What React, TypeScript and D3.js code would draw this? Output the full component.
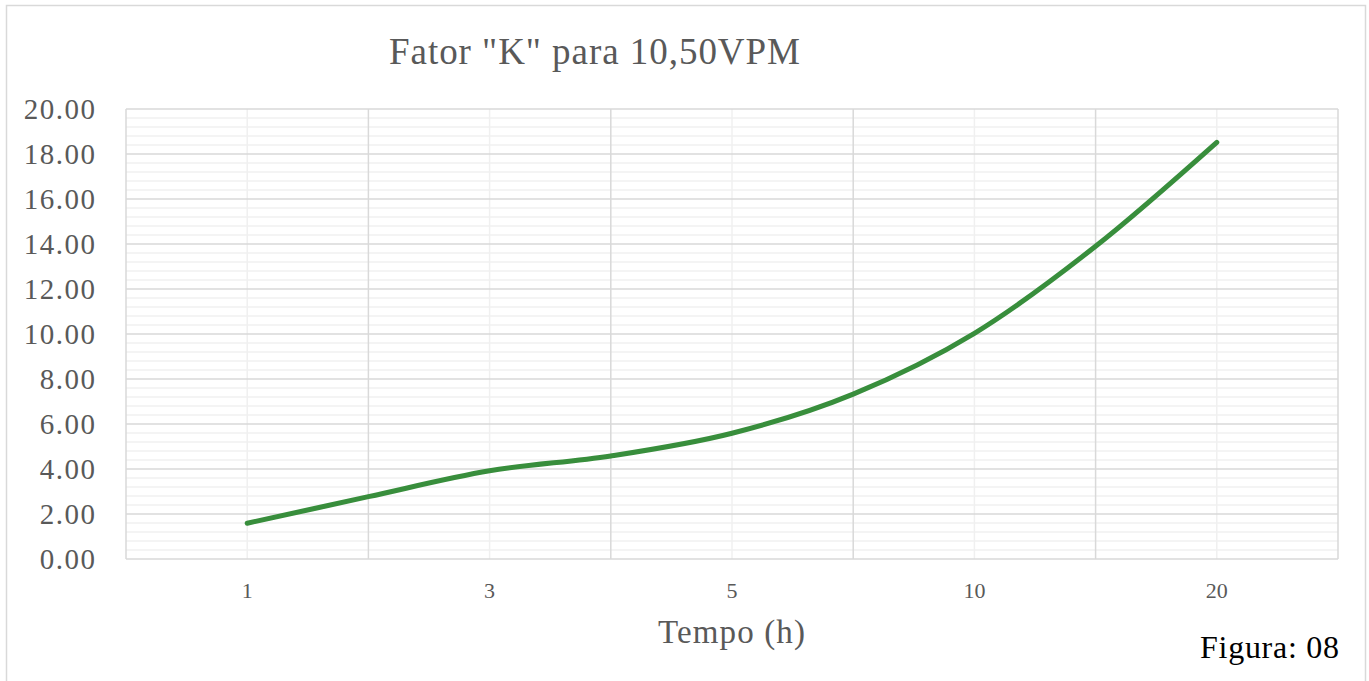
import React from "react";
import * as d3 from "d3";

const categories = ["1", "2", "3", "4", "5", "7", "10", "15", "20"];
const kValues = [1.59, 2.77, 3.92, 4.58, 5.59, 7.33, 10.03, 13.9, 18.52];
const labelEvery = 2;
const yTicks = [0, 2, 4, 6, 8, 10, 12, 14, 16, 18, 20];
const titleText = 'Fator "K" para 10,50VPM';
const xTitle = "Tempo (h)";
const figText = "Figura: 08";

const W = 1369;
const H = 681;
const plot = { left: 126, right: 1338, top: 109, bottom: 559 };
const FONT = "'Liberation Serif', 'DejaVu Serif', serif";
const TXT = "#595959";

export default function App() {
  const n = categories.length;
  const x = d3.scaleLinear().domain([0, n + 1]).range([plot.left, plot.right]);
  const y = d3.scaleLinear().domain([0, 20]).range([plot.bottom, plot.top]);

  const minorY = d3.range(0, 20.0001, 0.4).filter((v) => Math.abs(v / 2 - Math.round(v / 2)) > 1e-6);
  const vLines = d3.range(0, n + 2);

  const line = d3
    .line<number>()
    .x((_, i) => x(i + 1))
    .y((d) => y(d))
    .curve(d3.curveCatmullRom.alpha(0));

  return (
    <svg
      width={W}
      height={H}
      style={{ position: "absolute", left: 0, top: 0, display: "block", background: "#fff" }}
    >
      <rect x={6.5} y={5.5} width={1359} height={690} fill="#fff" stroke="#d9d9d9" strokeWidth={1.5} />
      {minorY.map((v) => (
        <line key={"mh" + v} x1={plot.left} x2={plot.right} y1={y(v)} y2={y(v)} stroke="#f0f0f0" strokeWidth={1.5} />
      ))}
      {vLines.map((i) => (
        <line
          key={"v" + i}
          x1={x(i)}
          x2={x(i)}
          y1={plot.top}
          y2={plot.bottom}
          stroke={i % 2 === 0 ? "#d9d9d9" : "#f0f0f0"}
          strokeWidth={1.5}
        />
      ))}
      {yTicks.map((v) => (
        <line key={"h" + v} x1={plot.left} x2={plot.right} y1={y(v)} y2={y(v)} stroke="#d9d9d9" strokeWidth={1.5} />
      ))}
      {yTicks.map((v) => (
        <text
          key={"yl" + v}
          x={96.5}
          y={y(v)}
          dy="0.34em"
          textAnchor="end"
          fontFamily={FONT}
          fontSize={29}
          letterSpacing={1.5}
          fill={TXT}
        >
          {v.toFixed(2)}
        </text>
      ))}
      {categories.map((c, i) =>
        i % labelEvery === 0 ? (
          <text
            key={"xl" + c}
            x={x(i + 1)}
            y={598}
            textAnchor="middle"
            fontFamily={FONT}
            fontSize={22}
            fill={TXT}
          >
            {c}
          </text>
        ) : null
      )}
      <path d={line(kValues) || ""} fill="none" stroke="#388e3c" strokeWidth={5} strokeLinecap="round" strokeLinejoin="round" />
      <text x={389} y={64} fontFamily={FONT} fontSize={37} textLength={411} lengthAdjust="spacing" fill={TXT}>
        {titleText}
      </text>
      <text x={658} y={643} fontFamily={FONT} fontSize={33} textLength={147} lengthAdjust="spacing" fill={TXT}>
        {xTitle}
      </text>
      <text x={1200} y={658} fontFamily={FONT} fontSize={32} textLength={139} lengthAdjust="spacing" fill="#000">
        {figText}
      </text>
    </svg>
  );
}
